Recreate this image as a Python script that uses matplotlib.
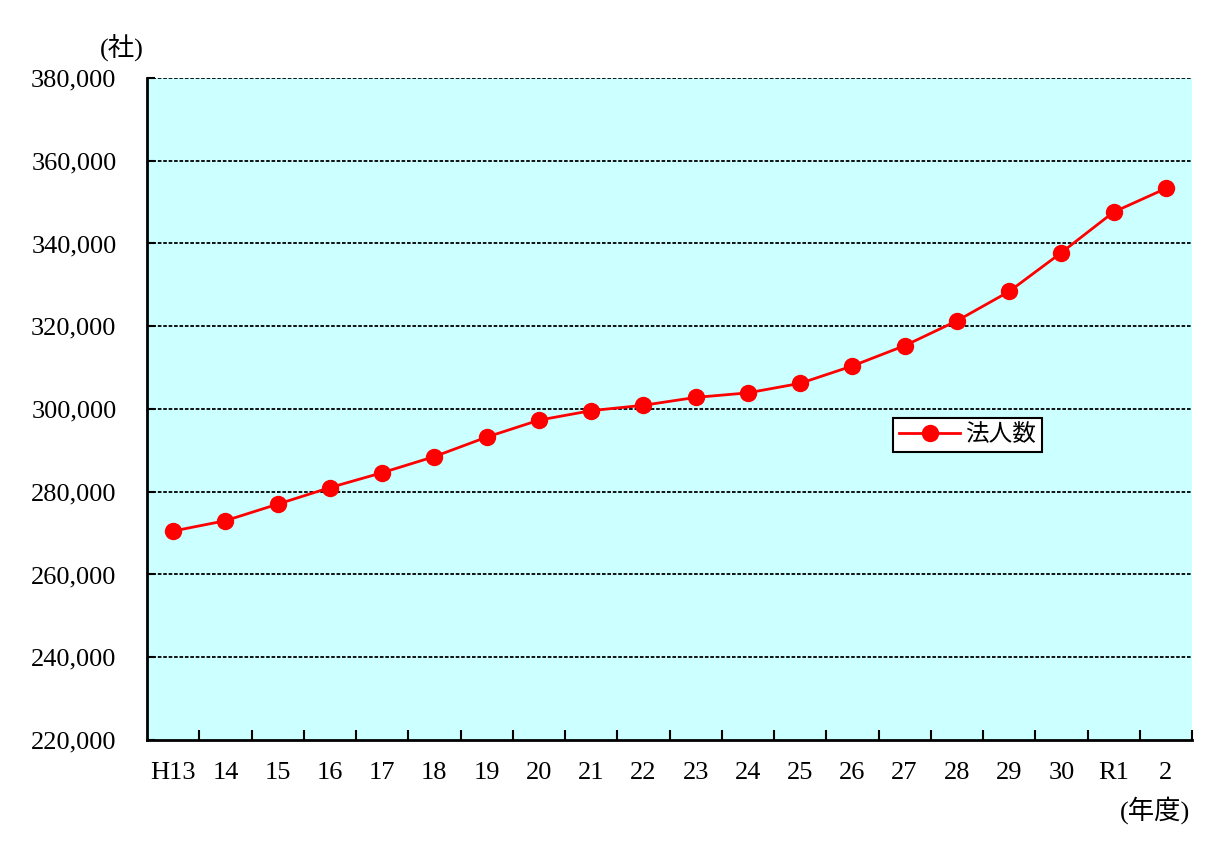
import matplotlib
matplotlib.use('Agg')
import matplotlib.pyplot as plt
from matplotlib.ticker import FuncFormatter, FixedLocator

plt.rcParams['font.family'] = ['Liberation Serif', 'Noto Sans CJK JP']

# 年度ラベルと法人数
years = ['H13', '14', '15', '16', '17', '18', '19', '20', '21', '22',
         '23', '24', '25', '26', '27', '28', '29', '30', 'R1', '2']
corps = [270500, 273000, 277000, 281000, 284600, 288500, 293200, 297300, 299600, 300900,
         302800, 303900, 306200, 310400, 315300, 321300, 328400, 337800, 347600, 353300]
yticks = [220000, 240000, 260000, 280000, 300000, 320000, 340000, 360000, 380000]

fig = plt.figure(figsize=(12.08, 8.44), dpi=100)
ax = fig.add_axes([147 / 1208, 1 - 740 / 844, (1192 - 147) / 1208, (740 - 78) / 844])
ax.set_facecolor('#CCFFFF')

x = list(range(len(years)))
ax.plot(x, corps, color='#FF0000', lw=2, marker='o', ms=11.5, mfc='#FF0000', mec='#FF0000',
        label='法人数', zorder=3)

ax.set_xlim(-0.5, len(years) - 0.5)
ax.set_ylim(220000, 380000)
ax.set_yticks(yticks)
ax.yaxis.set_major_formatter(FuncFormatter(lambda v, p: f'{int(v):,}'))
ax.set_xticks(x)
ax.set_xticklabels(years)
ax.xaxis.set_minor_locator(FixedLocator([i + 0.5 for i in x]))
ax.tick_params(axis='x', which='major', length=0, pad=16, labelsize=19)
ax.tick_params(axis='x', which='minor', length=7, width=1.5, direction='in')
ax.tick_params(axis='y', which='major', length=6, width=1.5, direction='in', pad=22, labelsize=19)

for t in yticks[1:]:
    ax.axhline(t, color='black', lw=1.3, ls=(0, (2, 1)), zorder=1)

for s in ['top', 'right']:
    ax.spines[s].set_visible(False)
for s in ['left', 'bottom']:
    ax.spines[s].set_linewidth(2)

leg = ax.legend(loc='upper left', bbox_to_anchor=((893 - 147) / 1045, (740 - 418) / 662),
                fontsize=17, frameon=True, fancybox=False, handlelength=2.6,
                borderpad=0.25, handletextpad=0.2, borderaxespad=0)
leg.get_frame().set_edgecolor('black')
leg.get_frame().set_linewidth(1.5)
leg.get_frame().set_facecolor('white')
leg.get_frame().set_alpha(1)

fig.text(100 / 1208, 1 - 48 / 844, '(社)', fontsize=19, va='center', ha='left')
fig.text(1190 / 1208, 1 - 810 / 844, '(年度)', fontsize=19, va='center', ha='right')

fig.savefig('out.png', dpi=100)
